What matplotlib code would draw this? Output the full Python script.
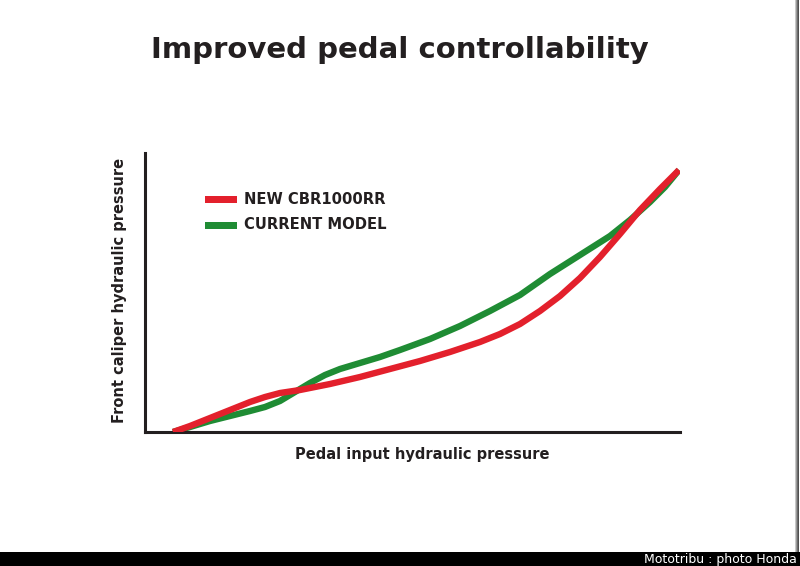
import matplotlib.pyplot as plt
from matplotlib.patches import Rectangle

# curves (x: pedal input, y: caliper pressure, arbitrary units)
new_x = [28, 45, 65, 85, 105, 120, 135, 155, 185, 215, 245, 275, 305, 335,
         355, 375, 395, 415, 435, 455, 475, 495, 515, 534]
new_y = [0, 6, 14, 22, 30, 35, 39, 42, 48, 55, 63, 71, 80, 90,
         98, 108, 121, 136, 154, 175, 198, 222, 243, 262]

cur_x = [28, 45, 65, 85, 105, 120, 135, 150, 165, 180, 195, 215, 235, 255,
         285, 315, 345, 375, 405, 435, 465, 485, 505, 520, 534]
cur_y = [0, 5, 11, 16, 21, 25, 31, 40, 49, 57, 63, 69, 75, 82,
         93, 106, 121, 137, 158, 177, 196, 212, 230, 245, 262]

series_labels = ["NEW CBR1000RR", "CURRENT MODEL"]
series_colors = ["#e3202c", "#1f8c34"]

TXT = "#231f20"
plt.rcParams["font.family"] = ["DejaVu Sans"]

fig = plt.figure(figsize=(8, 5.66), dpi=100)
fig.patch.set_facecolor("white")

W, H = 800, 566
ax = fig.add_axes([145 / W, (H - 432) / H, (680 - 145) / W, (432 - 153) / H])
ax.set_xlim(0, 535)
ax.set_ylim(0, 279)
ax.plot(new_x, new_y, color=series_colors[0], lw=4.6, solid_joinstyle="round",
        solid_capstyle="butt", zorder=3)
ax.plot(cur_x, cur_y, color=series_colors[1], lw=4.6, solid_joinstyle="round",
        solid_capstyle="butt", zorder=2)
for s in ["top", "right"]:
    ax.spines[s].set_visible(False)
for s in ["left", "bottom"]:
    ax.spines[s].set_linewidth(2.2)
    ax.spines[s].set_color(TXT)
ax.set_xticks([])
ax.set_yticks([])

# legend drawn by hand
for i, (lab, col) in enumerate(zip(series_labels, series_colors)):
    yy = 1 - (199 + 26 * i) / H
    fig.add_artist(Rectangle((205 / W, yy - 3.5 / H), 32 / W, 7 / H,
                             transform=fig.transFigure, color=col, lw=0))
    fig.text(244 / W, yy, lab, fontsize=10.6, fontweight="bold", color=TXT,
             va="center", ha="left")

fig.text(400 / W, 1 - 50 / H, "Improved pedal controllability", fontsize=21,
         fontweight="bold", color=TXT, ha="center", va="center")
fig.text(422 / W, 1 - 454 / H, "Pedal input hydraulic pressure", fontsize=10.5,
         fontweight="bold", color=TXT, ha="center", va="center")
fig.text(120 / W, 1 - 290 / H, "Front caliper hydraulic pressure", fontsize=10.5,
         fontweight="bold", color=TXT, ha="center", va="center", rotation=90)

# photo credit bar and right border shadow
fig.add_artist(Rectangle((0, 0), 1, 14 / H, transform=fig.transFigure,
                         color="black", lw=0))
fig.text(797 / W, 7 / H, "Mototribu : photo Honda", fontsize=9, color="white",
         ha="right", va="center")
for k, g in enumerate(["#c8c8c8", "#9a9a9a", "#6e6e6e", "#505050"]):
    fig.add_artist(Rectangle(((795 + k) / W, 14 / H), 1 / W, 1 - 14 / H,
                             transform=fig.transFigure, color=g, lw=0))

fig.savefig("out.png", dpi=100)
